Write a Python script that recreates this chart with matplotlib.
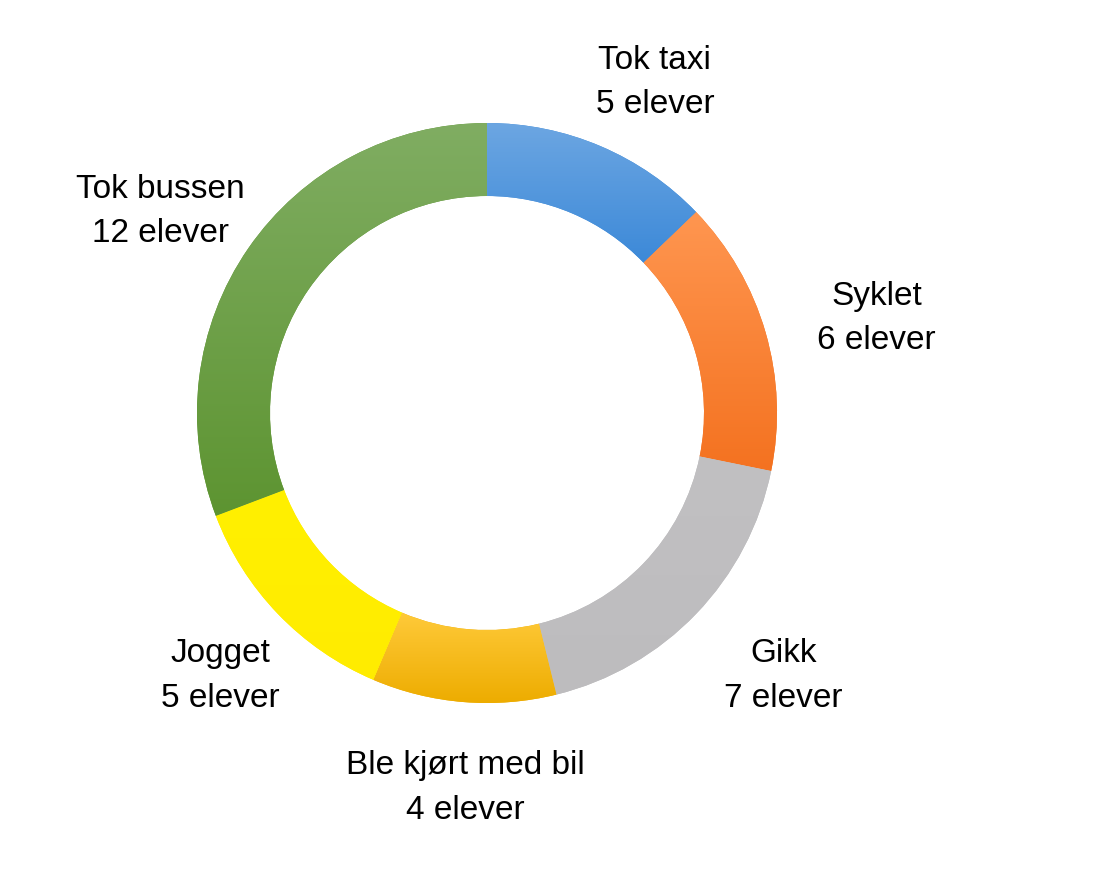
import numpy as np
import matplotlib.pyplot as plt
from matplotlib.colors import LinearSegmentedColormap

categories = ["Tok taxi", "Syklet", "Gikk", "Ble kjørt med bil", "Jogget", "Tok bussen"]
counts = [5, 6, 7, 4, 5, 12]
# (top colour, bottom colour) of each segment's soft gradient
top_colors = ["#6CA6E2", "#FF9650", "#C1C0C2", "#FFCA3A", "#FFF000", "#80AD62"]
bottom_colors = ["#3C89D8", "#F47220", "#BDBCBE", "#EDAC00", "#FFEC00", "#5D9431"]

fig = plt.figure(figsize=(10.95, 8.85), dpi=100)
ax = fig.add_axes([0, 0, 1, 1])

cx, cy, r = 487, 885 - 413, 290
wedges, _ = ax.pie(counts, colors=bottom_colors, startangle=90, counterclock=False,
                   center=(cx, cy), radius=r, frame=True,
                   wedgeprops=dict(width=73, linewidth=0))
ax.set_xlim(0, 1095)
ax.set_ylim(0, 885)
ax.set_aspect("equal")
ax.axis("off")

# vertical gradient inside each wedge
for w, c0, c1 in zip(wedges, top_colors, bottom_colors):
    bb = w.get_path().get_extents()
    cmap = LinearSegmentedColormap.from_list("g", [c0, c1])
    grad = np.linspace(0, 1, 256).reshape(-1, 1)
    im = ax.imshow(grad, cmap=cmap, extent=(bb.x0, bb.x1, bb.y0, bb.y1),
                   origin="upper", aspect="auto", zorder=w.get_zorder() + 0.1)
    im.set_clip_path(w)
ax.set_xlim(0, 1095)
ax.set_ylim(0, 885)

# labels: anchor on the mid-angle ray, pushed outward by half the text box
total = sum(counts)
texts, mids = [], []
start = 0
for name, n in zip(categories, counts):
    mid = np.deg2rad((start + n / 2) / total * 360)
    start += n
    t = ax.text(0, 0, f"{name}\n{n} elever", ha="center", va="center",
                fontsize=24, family="Liberation Sans", linespacing=1.55)
    texts.append(t)
    mids.append(mid)

fig.canvas.draw()
renderer = fig.canvas.get_renderer()
D = 1.14 * r
lx, ly = cx + 15, cy - 8  # labels sit a little right/below the ring centre
for t, mid in zip(texts, mids):
    ext = t.get_window_extent(renderer)
    tx = lx + D * np.sin(mid) + ext.width / 2 * np.sin(mid)
    ty = ly + D * np.cos(mid) + ext.height / 2 * np.cos(mid)
    t.set_position((tx, ty))

fig.savefig("out.png", dpi=100)
